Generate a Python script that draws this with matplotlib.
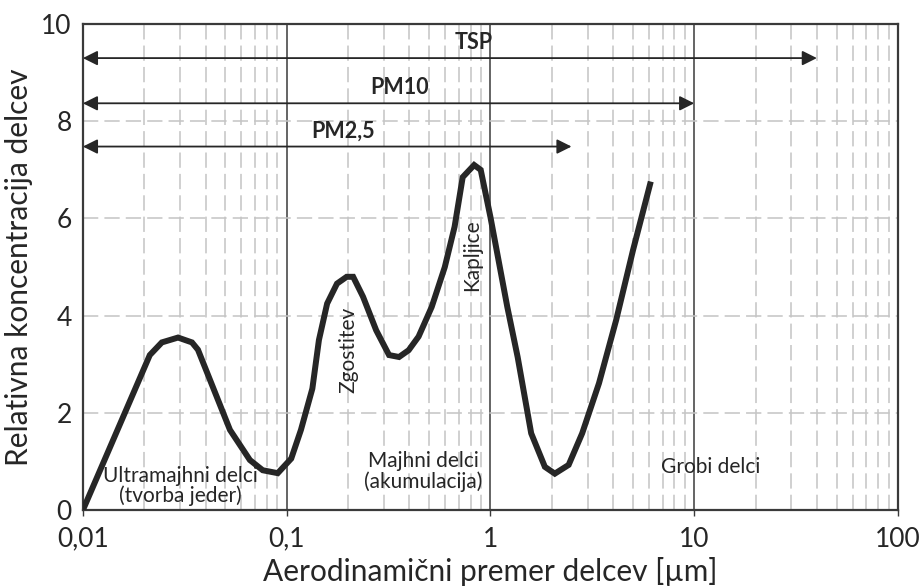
import numpy as np
import matplotlib
matplotlib.use('Agg')
import matplotlib.pyplot as plt
from matplotlib.ticker import FixedLocator, NullFormatter

plt.rcParams['font.family'] = ['Lato', 'DejaVu Sans']

# Particle size distribution curve
size_um = [0.01, 0.0213, 0.0244, 0.0293, 0.0343, 0.0367, 0.0527, 0.066, 0.0763, 0.0904,
           0.1053, 0.1175, 0.1337, 0.144, 0.158, 0.1766, 0.197, 0.212, 0.237, 0.275,
           0.318, 0.356, 0.397, 0.444, 0.515, 0.597, 0.667, 0.731, 0.832, 0.896,
           1.0, 1.21, 1.36, 1.585, 1.85, 2.07, 2.42, 2.82, 3.41, 4.14, 5.01, 6.07]
concentration = [0.0, 3.19, 3.45, 3.55, 3.45, 3.3, 1.65, 1.03, 0.82, 0.76,
                 1.06, 1.65, 2.5, 3.5, 4.25, 4.66, 4.8, 4.8, 4.39, 3.7,
                 3.19, 3.15, 3.29, 3.57, 4.18, 5.0, 5.83, 6.85, 7.1, 7.0,
                 6.03, 4.18, 3.15, 1.58, 0.89, 0.75, 0.93, 1.58, 2.61, 3.91, 5.35, 6.7]

# Size-fraction ranges (arrow end, arrow height, label)
fractions = ['TSP', 'PM10', 'PM2,5']
fraction_end = [40, 10, 2.5]
fraction_y = [9.3, 8.37, 7.48]
label_x = [0.83, 0.36, 0.19]
label_y = [9.62, 8.7, 7.8]

xticks = [0.01, 0.1, 1, 10, 100]
xticklabels = ['0,01', '0,1', '1', '10', '100']
yticks = [0, 2, 4, 6, 8, 10]

fig = plt.figure(figsize=(9.21, 5.87), dpi=100)
ax = fig.add_axes([0.090, 0.131, 0.885, 0.828])

ax.set_xscale('log')
ax.set_xlim(0.01, 100)
ax.set_ylim(0, 10)

ax.xaxis.set_major_locator(FixedLocator(xticks))
ax.set_xticklabels(xticklabels)
minor = [m * 10.0 ** e for e in range(-2, 2) for m in range(2, 10)]
ax.xaxis.set_minor_locator(FixedLocator(minor))
ax.xaxis.set_minor_formatter(NullFormatter())
ax.set_yticks(yticks)

grid_col = '#c4c4c4'
ax.grid(which='minor', axis='x', color=grid_col, lw=1.1, dashes=(10, 4))
ax.grid(which='major', axis='y', color=grid_col, lw=1.1, dashes=(10, 4))
ax.grid(which='major', axis='x', color='#3a3a3a', lw=1.1, linestyle='-')
ax.set_axisbelow(True)

ax.tick_params(axis='x', which='major', length=4, width=1, color='#3a3a3a',
               labelsize=19, labelcolor='#262626', pad=8)
ax.tick_params(axis='x', which='minor', length=0)
ax.tick_params(axis='y', length=0, labelsize=19, labelcolor='#262626', pad=8)
for sp in ax.spines.values():
    sp.set_color('#3a3a3a')
    sp.set_linewidth(1.6)

ax.plot(size_um, concentration, color='#262626', lw=4.3, solid_joinstyle='miter', zorder=4)

for name, end, yy, lx, ly in zip(fractions, fraction_end, fraction_y, label_x, label_y):
    ax.annotate('', xy=(end, yy), xytext=(0.01, yy),
                arrowprops=dict(arrowstyle='<|-|>', color='#262626', lw=1.3,
                                mutation_scale=22, shrinkA=0, shrinkB=0), zorder=5)
    ax.text(lx, ly, name, ha='center', va='center', fontsize=15.5,
            fontweight='bold', color='#262626', zorder=5)

ax.text(0.030, 0.5, 'Ultramajhni delci\n(tvorba jeder)', ha='center', va='center',
        fontsize=15, color='#262626', linespacing=1.0)
ax.text(0.47, 0.8, 'Majhni delci\n(akumulacija)', ha='center', va='center',
        fontsize=15, color='#262626', linespacing=1.0)
ax.text(12.0, 0.88, 'Grobi delci', ha='center', va='center', fontsize=15, color='#262626')
ax.text(0.2, 3.3, 'Zgostitev', ha='center', va='center', rotation=90,
        fontsize=15, color='#262626')
ax.text(0.817, 5.25, 'Kapljice', ha='center', va='center', rotation=90,
        fontsize=15, color='#262626')

ax.set_xlabel('Aerodinamični premer delcev [\u00b5m]', fontsize=21.5, color='#262626', labelpad=4)
ax.set_ylabel('Relativna koncentracija delcev', fontsize=21.5, color='#262626', labelpad=6)

fig.savefig('out.png', dpi=100)
